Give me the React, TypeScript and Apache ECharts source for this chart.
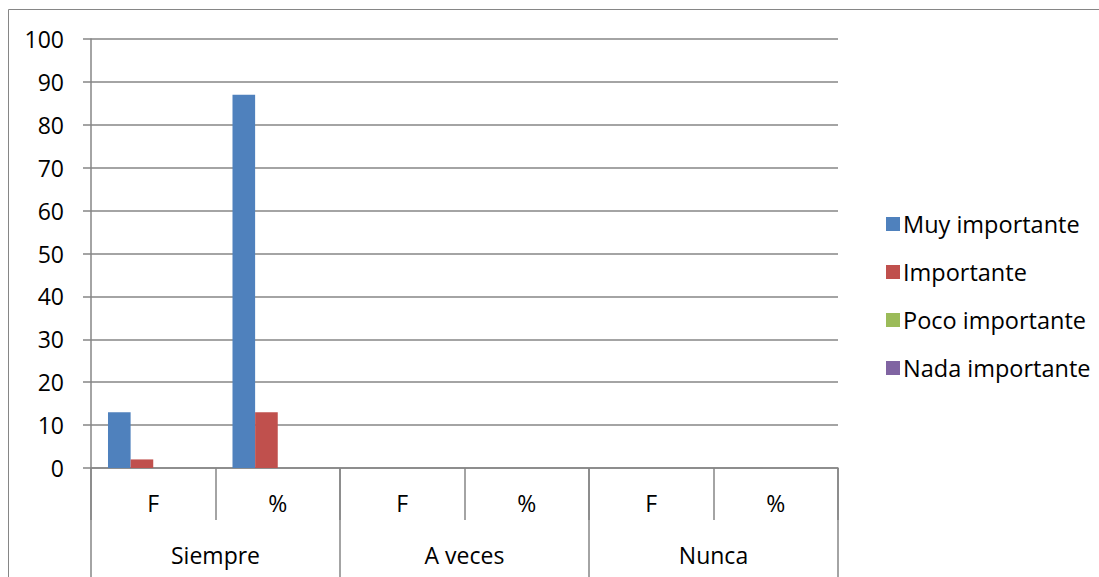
import React, { useEffect, useRef } from "react";
import * as echarts from "echarts";

const subCategories = ["F", "%", "F", "%", "F", "%"];
const groupCategories = ["Siempre", "A veces", "Nunca"];
const seriesNames = ["Muy importante", "Importante", "Poco importante", "Nada importante"];
const muyImportante = [13, 87, 0, 0, 0, 0];
const importante = [2, 13, 0, 0, 0, 0];
const pocoImportante = [0, 0, 0, 0, 0, 0];
const nadaImportante = [0, 0, 0, 0, 0, 0];
const seriesColors = ["#4F81BD", "#C0504D", "#9BBB59", "#8064A2"];
const yTicks = { min: 0, max: 100, interval: 10 };

const FONT = "'Open Sans', Lato, sans-serif";
const GRAY = "#868686";

export default function App() {
  const ref = useRef<HTMLDivElement>(null);
  useEffect(() => {
    if (!ref.current) return;
    const chart = echarts.init(ref.current, null, { renderer: "svg" });
    const values = [muyImportante, importante, pocoImportante, nadaImportante];
    chart.setOption({
      animation: false,
      backgroundColor: "#ffffff",
      color: seriesColors,
      textStyle: { fontFamily: FONT },
      graphic: [
        {
          type: "rect",
          shape: { x: 8.5, y: 9.5, width: 1200, height: 700 },
          style: { fill: "none", stroke: GRAY, lineWidth: 1 },
          silent: true,
        },
      ],
      grid: { left: 91, right: 261, top: 39, bottom: 109, containLabel: false },
      legend: {
        orient: "vertical",
        left: 881,
        top: 207,
        itemWidth: 14,
        itemHeight: 14,
        itemGap: 24,
        icon: "rect",
        data: seriesNames,
        textStyle: { fontSize: 23.5, lineHeight: 24, color: "#000", fontFamily: FONT, padding: [0, 0, 0, -2] },
      },
      xAxis: [
        {
          type: "category",
          data: subCategories,
          position: "bottom",
          axisLine: { show: true, lineStyle: { color: GRAY, width: 1.5 } },
          axisTick: { show: true, interval: 0, length: 52, lineStyle: { color: GRAY, width: 1.5 } },
          axisLabel: { interval: 0, margin: 23, fontSize: 23, color: "#000", fontFamily: FONT },
        },
        {
          type: "category",
          data: groupCategories,
          position: "bottom",
          axisLine: { show: false },
          axisTick: { show: true, interval: 0, length: 115, lineStyle: { color: GRAY, width: 1.5 } },
          axisLabel: { interval: 0, margin: 75, fontSize: 23, color: "#000", fontFamily: FONT },
        },
      ],
      yAxis: {
        type: "value",
        min: yTicks.min,
        max: yTicks.max,
        interval: yTicks.interval,
        axisLine: { show: true, lineStyle: { color: GRAY, width: 1.5 } },
        axisTick: { show: true, length: 8, lineStyle: { color: GRAY, width: 1.5 } },
        axisLabel: { margin: 27, fontSize: 23, color: "#000", fontFamily: FONT },
        splitLine: { show: true, lineStyle: { color: GRAY, width: 1.5 } },
      },
      series: seriesNames.map((name, i) => ({
        name,
        type: "bar",
        xAxisIndex: 0,
        data: values[i],
        barGap: "0%",
        barCategoryGap: "27.3%",
        itemStyle: { color: seriesColors[i] },
      })),
    });
    return () => chart.dispose();
  }, []);
  return (
    <div
      ref={ref}
      style={{ position: "fixed", left: 0, top: 0, width: 1099, height: 577 }}
    />
  );
}
